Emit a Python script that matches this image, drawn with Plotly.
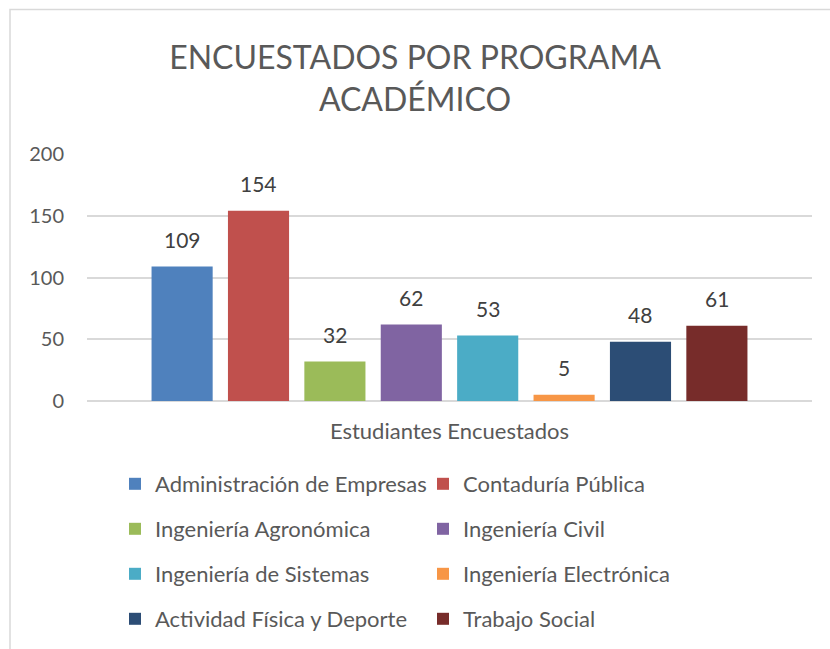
import plotly.graph_objects as go

categories = ["Estudiantes Encuestados"]
programs = ["Administración de Empresas", "Contaduría Pública", "Ingeniería Agronómica",
            "Ingeniería Civil", "Ingeniería de Sistemas", "Ingeniería Electrónica",
            "Actividad Física y Deporte", "Trabajo Social"]
values = [109, 154, 32, 62, 53, 5, 48, 61]
colors = ["#4F81BD", "#C0504D", "#9BBB59", "#8064A2", "#4BACC6", "#F79646", "#2C4D75", "#772C2A"]
y_ticks = [0, 50, 100, 150, 200]

FONT = "Lato"
W, H = 830, 649
L, R, T, B = 87, 18, 154, 248
pw, ph = W - L - R, H - T - B
BARGAP = 0.157

legend_names = ["legend", "legend2", "legend3", "legend4"]
fig = go.Figure()
for i, (p, v, c) in enumerate(zip(programs, values, colors)):
    fig.add_trace(go.Bar(
        x=categories, y=[v], name=p, marker=dict(color=c, line=dict(width=0)),
        legend=legend_names[i // 2], hoverinfo="name+y",
    ))

# data labels placed through the axes (category index 0, grouped offsets)
n = len(values)
slot = (1 - BARGAP) / n
annotations = []
for i, v in enumerate(values):
    annotations.append(dict(
        x=0 + (i - (n - 1) / 2) * slot, y=v, xref="x", yref="y",
        text=str(v), showarrow=False, yanchor="middle", yshift=27,
        font=dict(family=FONT, size=21, color="#404040"),
    ))

row_y = [484, 529, 574, 619]
leg_common = dict(orientation="h", xanchor="left", yanchor="middle",
                  entrywidth=263, entrywidthmode="pixels",
                  font=dict(family=FONT, size=22, color="#595959"),
                  bgcolor="rgba(0,0,0,0)", borderwidth=0, traceorder="normal",
                  itemclick=False)
leg_x = (115 - L) / pw
layout_legends = {}
for name, ry in zip(legend_names, row_y):
    layout_legends[name] = dict(leg_common, x=leg_x, y=(H - B - ry) / ph)

fig.update_layout(
    width=W, height=H,
    margin=dict(l=L, r=R, t=T, b=B, autoexpand=False),
    paper_bgcolor="white", plot_bgcolor="white",
    title=dict(text="ENCUESTADOS POR PROGRAMA<br>ACADÉMICO", x=0.5, xanchor="center",
               y=1 - 69 / H, yanchor="middle",
               font=dict(family=FONT, size=32, color="#595959")),
    barmode="group", bargap=BARGAP, bargroupgap=0.2,
    showlegend=True,
    xaxis=dict(showgrid=False, showline=False, zeroline=False, ticks="",
               tickfont=dict(family=FONT, size=22, color="#595959"),
               ticklabelstandoff=15, fixedrange=True),
    yaxis=dict(range=[0, 200], tickvals=y_ticks, showgrid=True, gridcolor="#D9D9D9",
               gridwidth=1.5, zeroline=True, zerolinecolor="#D9D9D9", zerolinewidth=1.5,
               showline=False, ticks="", ticklabelstandoff=22,
               tickfont=dict(family=FONT, size=20, color="#595959"), fixedrange=True),
    annotations=annotations,
    shapes=[dict(type="rect", xref="paper", yref="paper",
                 x0=(10 - L) / pw, x1=(W + 20 - L) / pw,
                 y0=(H - B - (H + 20)) / ph, y1=(H - B - 9.5) / ph,
                 line=dict(color="#D9D9D9", width=1.5), fillcolor="rgba(0,0,0,0)",
                 layer="below")],
    **layout_legends,
)

fig.write_html("out.html", config={"displayModeBar": False},
               post_script="document.body.style.margin='0';document.body.style.overflow='hidden';")
